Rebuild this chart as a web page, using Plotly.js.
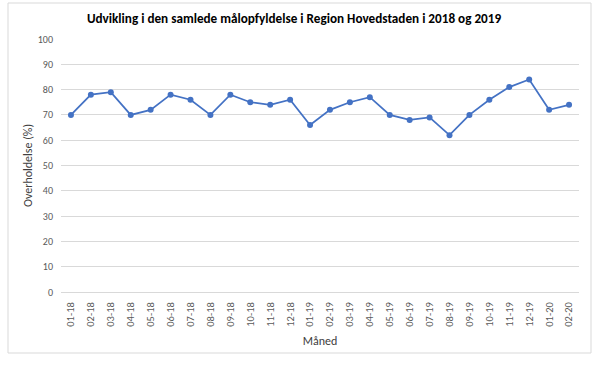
<!DOCTYPE html>
<html>
<head>
<meta charset="utf-8">
<script src="https://cdn.plot.ly/plotly-3.0.1.min.js"></script>
<style>html,body{margin:0;padding:0;background:#fff;}#chart{width:600px;height:366px;}</style>
</head>
<body>
<div id="chart"></div>
<script>
const months = ["01-18","02-18","03-18","04-18","05-18","06-18","07-18","08-18","09-18","10-18","11-18","12-18",
  "01-19","02-19","03-19","04-19","05-19","06-19","07-19","08-19","09-19","10-19","11-19","12-19","01-20","02-20"];
const compliance = [70,78,79,70,72,78,76,70,78,75,74,76,66,72,75,77,70,68,69,62,70,76,81,84,72,74];
const chartTitle = "Udvikling i den samlede målopfyldelse i Region Hovedstaden i 2018 og 2019";
const xTitle = "Måned";
const yTitle = "Overholdelse (%)";

const font = "Carlito, 'Liberation Sans', Arial, sans-serif";
const trace = {
  x: months, y: compliance, type: "scatter", mode: "lines+markers",
  line: {color: "#4472c4", width: 1.75},
  marker: {color: "#4472c4", size: 6},
  hoverinfo: "x+y"
};
const L = 61, R = 21, T = 39, B = 74, W = 600, H = 366;
const pw = W - L - R, ph = H - T - B;
const layout = {
  width: W, height: H,
  margin: {l: L, r: R, t: T, b: B},
  paper_bgcolor: "#fff", plot_bgcolor: "#fff",
  showlegend: false,
  font: {family: font, color: "#595959", size: 10},
  title: {text: chartTitle, font: {family: font, size: 13.2, color: "#000", weight: "bold"}, x: 294 / W, xanchor: "center", y: 1 - 18 / H, yanchor: "middle"},
  xaxis: {
    type: "category", range: [-0.5, months.length - 0.5],
    tickangle: -90, showgrid: false, zeroline: false, showline: false,
    ticks: "outside", ticklen: 5, tickcolor: "rgba(0,0,0,0)",
    tickfont: {size: 10.5, color: "#595959"},
    title: {text: xTitle, font: {size: 12, color: "#404040"}, standoff: 10}
  },
  yaxis: {
    range: [0, 100], dtick: 10, showgrid: true, gridcolor: "#d9d9d9", gridwidth: 1,
    zeroline: true, zerolinecolor: "#d9d9d9", zerolinewidth: 1, showline: false, ticks: "",
    ticklabelstandoff: 7, tickfont: {size: 10, color: "#595959"},
    title: {text: yTitle, font: {size: 12, color: "#404040"}, standoff: 2}
  },
  shapes: [{
    type: "rect", xref: "paper", yref: "paper",
    x0: (8 - L) / pw, x1: (591 - L) / pw,
    y0: (H - B - 353) / ph, y1: (H - B - 3) / ph,
    line: {color: "#d9d9d9", width: 1}, fillcolor: "rgba(0,0,0,0)", layer: "below"
  }]
};
Plotly.newPlot("chart", [trace], layout, {displayModeBar: false, staticPlot: true});
</script>
</body>
</html>
